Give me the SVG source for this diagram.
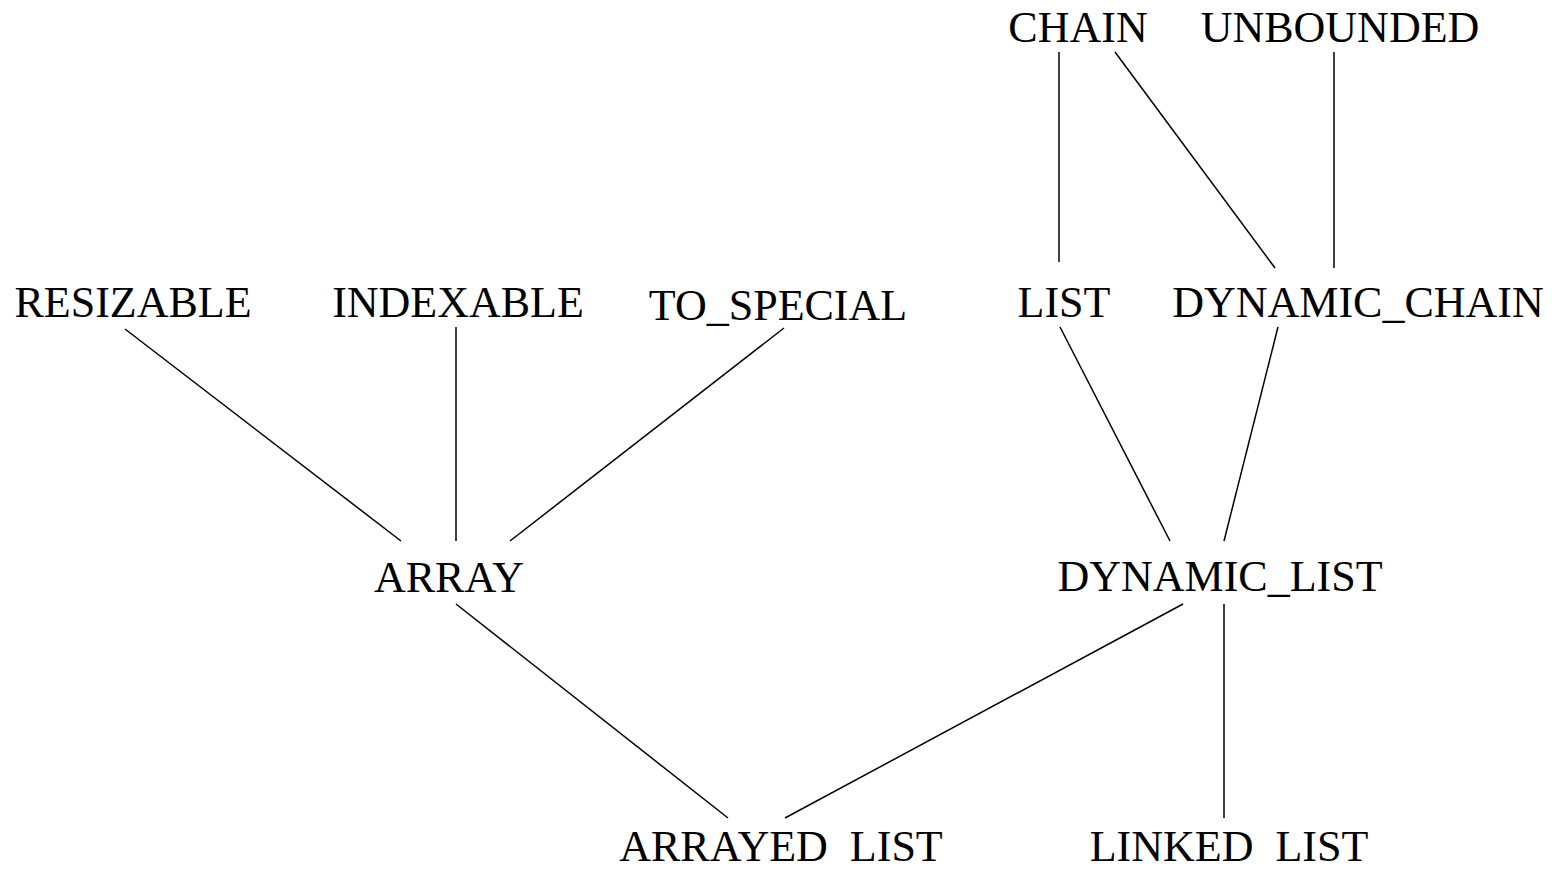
<svg xmlns="http://www.w3.org/2000/svg" width="1552" height="871" viewBox="0 0 1552 871">
  <style>
    .lbl { font-family: "Liberation Serif", "Times New Roman", serif; font-size: 44px; fill: #000; text-anchor: middle; }
    .edge { stroke: #000; stroke-width: 1.5; fill: none; }
  </style>
  <rect width="1552" height="871" fill="#fff"/>
  <g id="connectors">
    <line class="edge" x1="1059" y1="52" x2="1059" y2="262"/>
    <line class="edge" x1="1115" y1="52" x2="1275" y2="268"/>
    <line class="edge" x1="1334" y1="52" x2="1334" y2="268"/>
    <line class="edge" x1="125" y1="329" x2="401" y2="541"/>
    <line class="edge" x1="456" y1="327" x2="456" y2="541"/>
    <line class="edge" x1="784" y1="328" x2="510" y2="541"/>
    <line class="edge" x1="1060" y1="327" x2="1170" y2="541"/>
    <line class="edge" x1="1278" y1="327" x2="1224" y2="541"/>
    <line class="edge" x1="456" y1="604" x2="728" y2="818"/>
    <line class="edge" x1="1183" y1="604" x2="785" y2="818"/>
    <line class="edge" x1="1224" y1="604" x2="1224" y2="818"/>
  </g>
  <g id="chain"><text class="lbl" x="1078" y="42">CHAIN</text></g>
  <g id="unbounded"><text class="lbl" x="1340" y="42">UNBOUNDED</text></g>
  <g id="resizable"><text class="lbl" x="133" y="317">RESIZABLE</text></g>
  <g id="indexable"><text class="lbl" x="458" y="317">INDEXABLE</text></g>
  <g id="to_special"><text class="lbl" x="778" y="320">TO_SPECIAL</text></g>
  <g id="list"><text class="lbl" x="1064" y="317">LIST</text></g>
  <g id="dynamic_chain"><text class="lbl" x="1358" y="317">DYNAMIC_CHAIN</text></g>
  <g id="array"><text class="lbl" x="449" y="592">ARRAY</text></g>
  <g id="dynamic_list"><text class="lbl" x="1220" y="591">DYNAMIC_LIST</text></g>
  <g id="arrayed_list"><text class="lbl" x="781" y="861" xml:space="preserve">ARRAYED  LIST</text></g>
  <g id="linked_list"><text class="lbl" x="1229" y="861" xml:space="preserve">LINKED  LIST</text></g>
</svg>
